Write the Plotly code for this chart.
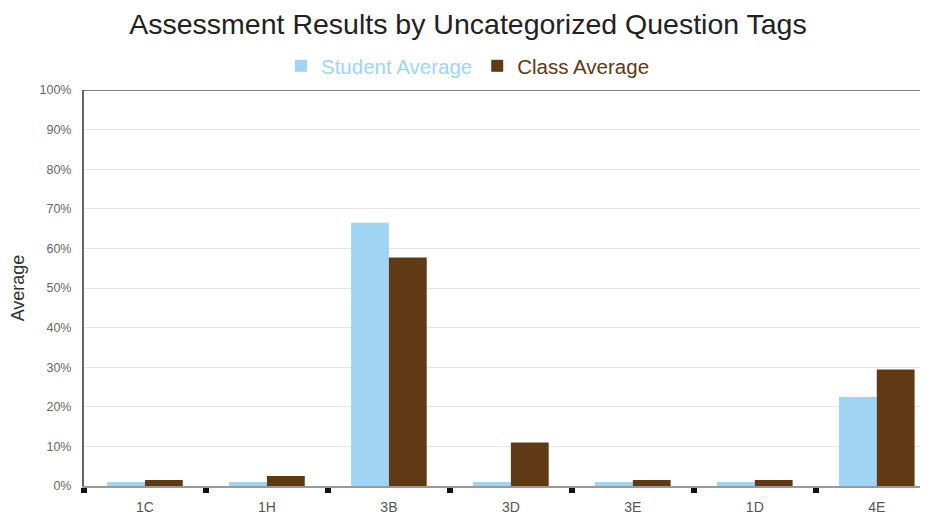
import plotly.graph_objects as go

categories = ["1C", "1H", "3B", "3D", "3E", "1D", "4E"]
student_avg = [1, 1, 66.5, 1, 1, 1, 22.5]
class_avg = [1.5, 2.5, 57.7, 11, 1.5, 1.5, 29.4]
y_ticks = [0, 10, 20, 30, 40, 50, 60, 70, 80, 90, 100]
y_tick_text = [f"{v}%" for v in y_ticks]

BLUE = "#9fd4f2"
BROWN = "#603915"

fig = go.Figure()
fig.add_trace(go.Bar(
    x=categories, y=student_avg,
    name=f"<span style='color:{BLUE}'>Student Average</span>",
    marker=dict(color=BLUE, line=dict(width=0)),
))
fig.add_trace(go.Bar(
    x=categories, y=class_avg,
    name=f"<span style='color:{BROWN}'>Class Average</span>",
    marker=dict(color=BROWN, line=dict(width=0)),
))

# page body has 8px default margin; figure sized to fit window
fig.update_layout(
    width=920, height=513,
    margin=dict(l=76, r=0, t=82, b=35, autoexpand=False),
    paper_bgcolor="white", plot_bgcolor="white",
    font=dict(family="Liberation Sans, Arial, sans-serif", color="#444"),
    title=dict(text="Assessment Results by Uncategorized Question Tags",
               x=0.5, xanchor="center", yref="container", y=0.968, yanchor="middle",
               font=dict(size=28.5, color="#222")),
    legend=dict(orientation="h", x=0.5, xanchor="center", xref="container",
                yref="container", y=0.887, yanchor="middle",
                font=dict(size=20.5), itemsizing="constant", traceorder="normal"),
    barmode="group", bargap=0.38, bargroupgap=0,
    showlegend=True,
)
fig.update_xaxes(
    type="category", tickson="boundaries", ticks="outside", ticklen=5, tickwidth=6,
    tickcolor="#111", showline=True, linecolor="#999", linewidth=2,
    range=[-0.5, 6.42], showgrid=False, automargin=False,
    tickfont=dict(size=14, color="#555"), ticklabelstandoff=7,
)
fig.update_yaxes(
    range=[0, 100], tickmode="array", tickvals=y_ticks, ticktext=y_tick_text,
    showgrid=True, gridcolor="#e6e6e6", gridwidth=1, automargin=False,
    showline=True, linecolor="#666", linewidth=2, zeroline=False,
    tickfont=dict(size=12.5, color="#666"), ticks="", ticklabelstandoff=8,
    title=dict(text="Average", font=dict(size=18, color="#333"), standoff=12),
)
fig.add_shape(type="line", xref="paper", yref="y", x0=0, x1=1, y0=100, y1=100,
              line=dict(color="#555", width=1.5))

fig.write_html("out.html")
